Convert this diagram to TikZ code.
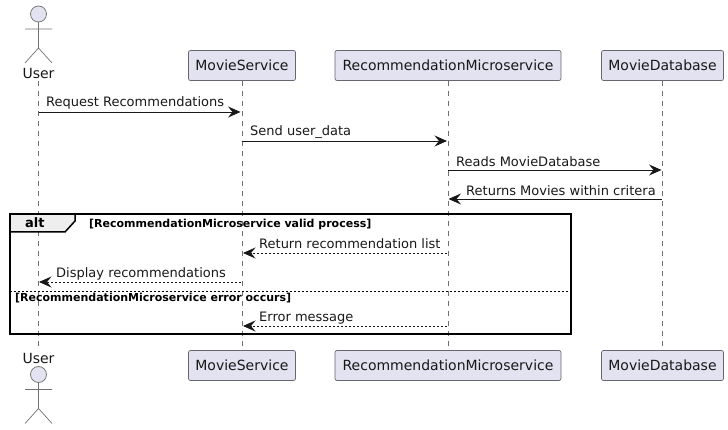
\documentclass[tikz,border=0pt]{standalone}
\usepackage{fontspec}
\setmainfont{DejaVu Sans}
\usetikzlibrary{arrows.meta}
\definecolor{partfill}{HTML}{E2E2F0}
\definecolor{partline}{HTML}{666672}
\definecolor{lifec}{HTML}{707070}
\definecolor{tabfill}{HTML}{EEEEEE}
\definecolor{inkc}{HTML}{181818}
\tikzset{
  x=1pt,y=-1pt,
  part/.style={draw=partline,fill=partfill,rounded corners=2pt,line width=0.7pt,minimum height=30pt,inner sep=0pt,text=inkc,font=\fontsize{14}{16}\selectfont},
  life/.style={draw=lifec,line width=0.6pt,dash pattern=on 5pt off 5pt},
  actorline/.style={draw=lifec,line width=0.7pt},
  actorname/.style={inner sep=0pt,text=inkc,font=\fontsize{14}{16}\selectfont},
  tip/.style={-{Stealth[length=12.5pt,width=11pt,inset=4.5pt]}},
  msg/.style={draw=inkc,line width=0.9pt,tip},
  ret/.style={draw=inkc,line width=0.9pt,dash pattern=on 2pt off 2pt,tip},
  lbl/.style={inner sep=0pt,anchor=base west,text=inkc,font=\fontsize{13}{15}\selectfont},
  guard/.style={inner sep=0pt,anchor=base west,text=black,font=\fontsize{11}{13}\selectfont\bfseries},
  frameline/.style={draw=black,line width=1.5pt},
}
\begin{document}
\begin{tikzpicture}
\useasboundingbox (0,0) rectangle (728,430);
% participants
\node[part,minimum width=107pt] (msT) at (242,65.5) {MovieService};
\node[part,minimum width=226pt] (rmT) at (448,65.5) {RecommendationMicroservice};
\node[part,minimum width=122pt] (dbT) at (662.5,65.5) {MovieDatabase};
\node[part,minimum width=107pt] (msB) at (242,365.5) {MovieService};
\node[part,minimum width=226pt] (rmB) at (448,365.5) {RecommendationMicroservice};
\node[part,minimum width=122pt] (dbB) at (662.5,365.5) {MovieDatabase};
\node[actorname] (uT) at (38.5,73) {User};
\node[actorname] (uB) at (38.5,358) {User};
\coordinate (uTl) at (38.5,81);
\coordinate (uBl) at (38.5,346);
% lifelines
\draw[life] (uTl) -- (uBl);
\draw[life,xshift=-0.6pt] (msT.south) -- (msB.north);
\draw[life,xshift=-0.6pt] (rmT.south) -- (rmB.north);
\draw[life] (dbT.south) -- (dbB.north);
% actors
\begin{scope}[shift={(38.5,0)}]
\draw[actorline,fill=partfill] (0,14) circle (8);
\draw[actorline] (0,22) -- (0,48) (-13.5,29) -- (13.5,29) (-13.5,63) -- (0,48) -- (13.5,63);
\end{scope}
\begin{scope}[shift={(38.5,360.5)}]
\draw[actorline,fill=partfill] (0,14) circle (8);
\draw[actorline] (0,22) -- (0,48) (-13.5,29) -- (13.5,29) (-13.5,63) -- (0,48) -- (13.5,63);
\end{scope}
% frame
\draw[frameline,fill=tabfill] (10,214) -- (75,214) -- (75,221) -- (65,232) -- (10,232) -- cycle;
\draw[frameline] (10,214) rectangle (571,334);
\draw[draw=black,line width=0.7pt,dash pattern=on 2pt off 2pt] (10,291) -- (571,291);
\node[inner sep=0pt,anchor=base west,text=black,font=\fontsize{13}{15}\selectfont\bfseries] (alt) at (25,228) {alt};
\node[guard] (g1) at (89,228) {[RecommendationMicroservice valid process]};
\node[guard] (g2) at (15,301.5) {[RecommendationMicroservice error occurs]};
% message anchors
\coordinate (a1) at (38.5,112); \coordinate (b1) at (240.5,112);
\coordinate (a2) at (241.5,141); \coordinate (b2) at (447,141);
\coordinate (a3) at (448,170); \coordinate (b3) at (661.5,170);
\coordinate (a4) at (661.5,199); \coordinate (b4) at (448.5,199);
\coordinate (a5) at (447,253); \coordinate (b5) at (243,253);
\coordinate (a6) at (241,282); \coordinate (b6) at (39,282);
\coordinate (a7) at (447,326); \coordinate (b7) at (243,326);
\draw[msg] (a1) -- (b1);
\draw[msg] (a2) -- (b2);
\draw[msg] (a3) -- (b3);
\draw[msg] (a4) -- (b4);
\draw[ret] (a5) -- (b5);
\draw[ret] (a6) -- (b6);
\draw[ret] (a7) -- (b7);
\node[lbl] (m1) at (46,107) {Request Recommendations};
\node[lbl] (m2) at (250,136) {Send user\_data};
\node[lbl] (m3) at (456,166.5) {Reads MovieDatabase};
\node[lbl] (m4) at (466,195.5) {Returns Movies within critera};
\node[lbl] (m5) at (259,248.5) {Return recommendation list};
\node[lbl] (m6) at (56,277.5) {Display recommendations};
\node[lbl] (m7) at (259,321.5) {Error message};
\end{tikzpicture}
\end{document}
